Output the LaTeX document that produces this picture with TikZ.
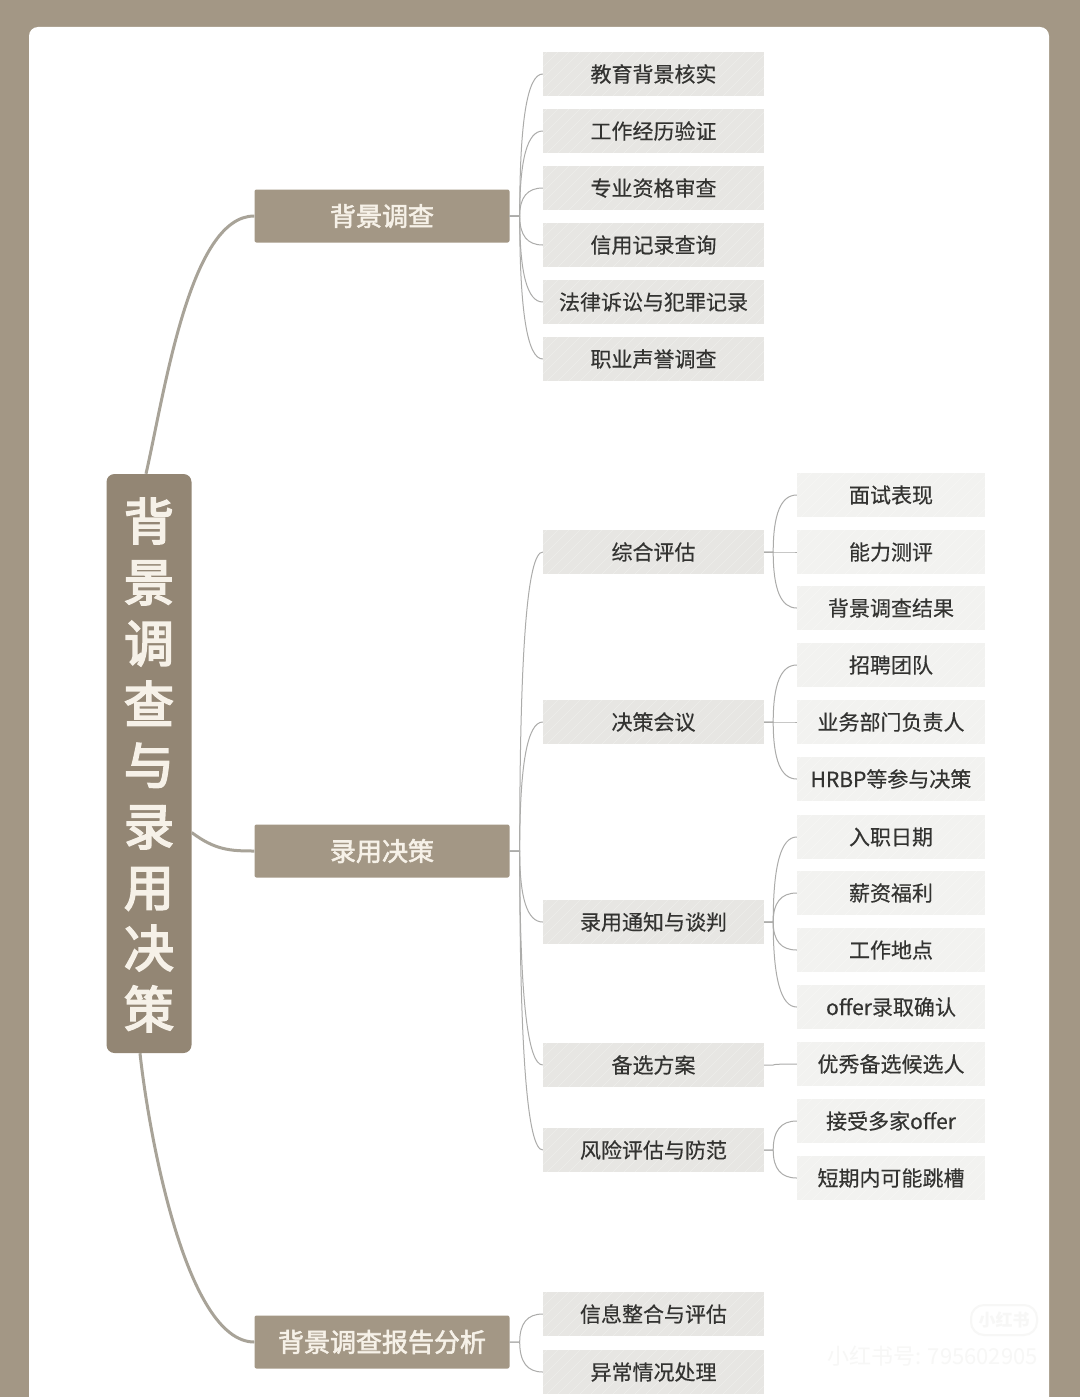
\documentclass[tikz,border=0pt]{standalone}
\usepackage{fontspec}
\setmainfont{Noto Sans CJK SC}
\newfontfamily\strongfont[FakeBold=3.5]{Noto Sans CJK SC}
\newfontfamily\headfont[FakeBold=2.2]{Noto Sans CJK SC}
\newfontfamily\topicfont[FakeBold=0.4]{Noto Sans CJK SC}
\usetikzlibrary{calc}
\definecolor{taupe}{HTML}{A39785}
\definecolor{rootbrown}{HTML}{938674}
\definecolor{stem}{HTML}{A8A398}
\definecolor{twiggray}{HTML}{ACACAA}
\definecolor{inkgray}{HTML}{333331}
\definecolor{cream}{HTML}{F6F1E8}
\definecolor{ghost}{HTML}{F7F7F6}
\definecolor{midgray}{HTML}{E7E6E3}
\definecolor{leafgray}{HTML}{F2F2F0}
\tikzset{
    rootbox/.style={fill=rootbrown, rounded corners=8pt, minimum width=85pt, minimum height=579pt,
        inner sep=0pt, align=center, text=cream, font=\fontsize{50}{61}\selectfont\strongfont},
    headbox/.style={fill=taupe, rounded corners=2pt, minimum width=255pt, minimum height=53pt,
        inner sep=0pt, text=cream, font=\fontsize{26}{30}\selectfont\headfont},
    hatch/.style={path picture={
        \foreach \s in {-40,-29,...,220}
            \draw[white, opacity=.3, line width=.6pt]
                ([xshift=\s pt]path picture bounding box.south west) -- ++(46,-46);}},
    topicbox/.style={fill=#1, hatch, minimum height=44pt, inner sep=0pt, text=inkgray,
        font=\fontsize{21}{25}\selectfont\topicfont},
    midbox/.style={topicbox=midgray, minimum width=221pt},
    leafbox/.style={topicbox=leafgray, minimum width=188pt},
    stemline/.style={draw=stem, line width=3pt},
    twig/.style={draw=twiggray, line width=1pt},
    x=1pt, y=-1pt
}
\begin{document}
\begin{tikzpicture}
\useasboundingbox (0,0) rectangle (1080,1397);
% Page and card
\fill[taupe] (0,0) rectangle (1080,1397);
\fill[white, rounded corners=9pt] (29,27) rectangle (1049,1430);

% Root and first level
\node[rootbox] (root) at (149,763.5) {\rule{0pt}{45pt}背\\景\\调\\查\\与\\录\\用\\决\\策};
\node[headbox] (check) at (382,216) {\raisebox{-1.5pt}{背景调查}};
\node[headbox] (hire) at (382,851) {\raisebox{-1.5pt}{录用决策}};
\node[headbox] (report) at (382,1342) {\raisebox{-1.5pt}{背景调查报告分析}};

% Second level
\foreach \name/\y/\txt in {edu/74/教育背景核实, work/131/工作经历验证, cert/188/专业资格审查,
        credit/245/信用记录查询, law/302/法律诉讼与犯罪记录, fame/359/职业声誉调查,
        assess/552/综合评估, meet/722/决策会议, offer/922/录用通知与谈判, spare/1065/备选方案,
        risk/1150/风险评估与防范, merge/1314/信息整合与评估, odd/1372/异常情况处理}
    \node[midbox] (\name) at (653.5,\y) {\raisebox{-.8pt}{\txt}};

% Third level
\foreach \name/\y/\txt in {face/495/面试表现, skill/552/能力测评, result/608/背景调查结果,
        team/665/招聘团队, dept/722/业务部门负责人, hrbp/779/HRBP等参与决策,
        date/837/入职日期, pay/893/薪资福利, place/950/工作地点, sign/1007/offer录取确认,
        backup/1064/优秀备选候选人, multi/1121/接受多家offer, hop/1178/短期内可能跳槽}
    \node[leafbox] (\name) at (891,\y) {\raisebox{-1pt}{\txt}};

% Stems from the root
\draw[stemline] ([xshift=-3pt]root.north) .. controls (165,390) and (190,216) .. (check.west);
\draw[stemline] ([yshift=-69pt]root.east) .. controls (215,850) and (230,851) .. (hire.west);
\draw[stemline] ([xshift=-9pt]root.south) .. controls (148,1128) and (185,1342) .. (report.west);

% Twigs
\foreach \parent/\kid/\gap in {check/edu/10, check/work/10, check/cert/10, check/credit/10, check/law/10, check/fame/10,
        hire/assess/10, hire/meet/10, hire/offer/10, hire/spare/10, hire/risk/10,
        report/merge/10, report/odd/10,
        assess/face/9, assess/skill/9, assess/result/9, meet/team/9, meet/dept/9, meet/hrbp/9,
        offer/date/9, offer/pay/9, offer/place/9, offer/sign/9, spare/backup/9, risk/multi/9, risk/hop/9} {
    \path (\parent.east) ++(\gap,0) coordinate (m);
    \draw[twig] (\parent.east) -- (m) .. controls ($(m)!.67!(m |- \kid.west)$) and ($(\kid.west)!.67!(m |- \kid.west)$) .. (\kid.west);
}

% Watermark
\node[draw=ghost, fill=white, line width=2pt, rounded corners=13pt, minimum width=66pt, minimum height=30pt,
    inner sep=0pt, text=ghost, font=\fontsize{17}{20}\selectfont\bfseries] (badge) at (1004,1320) {小红书};
\node[anchor=east, inner sep=0pt, text=ghost, font=\fontsize{22}{26}\selectfont] (mark) at (1038,1356) {小红书号: 795602905};
\end{tikzpicture}
\end{document}
